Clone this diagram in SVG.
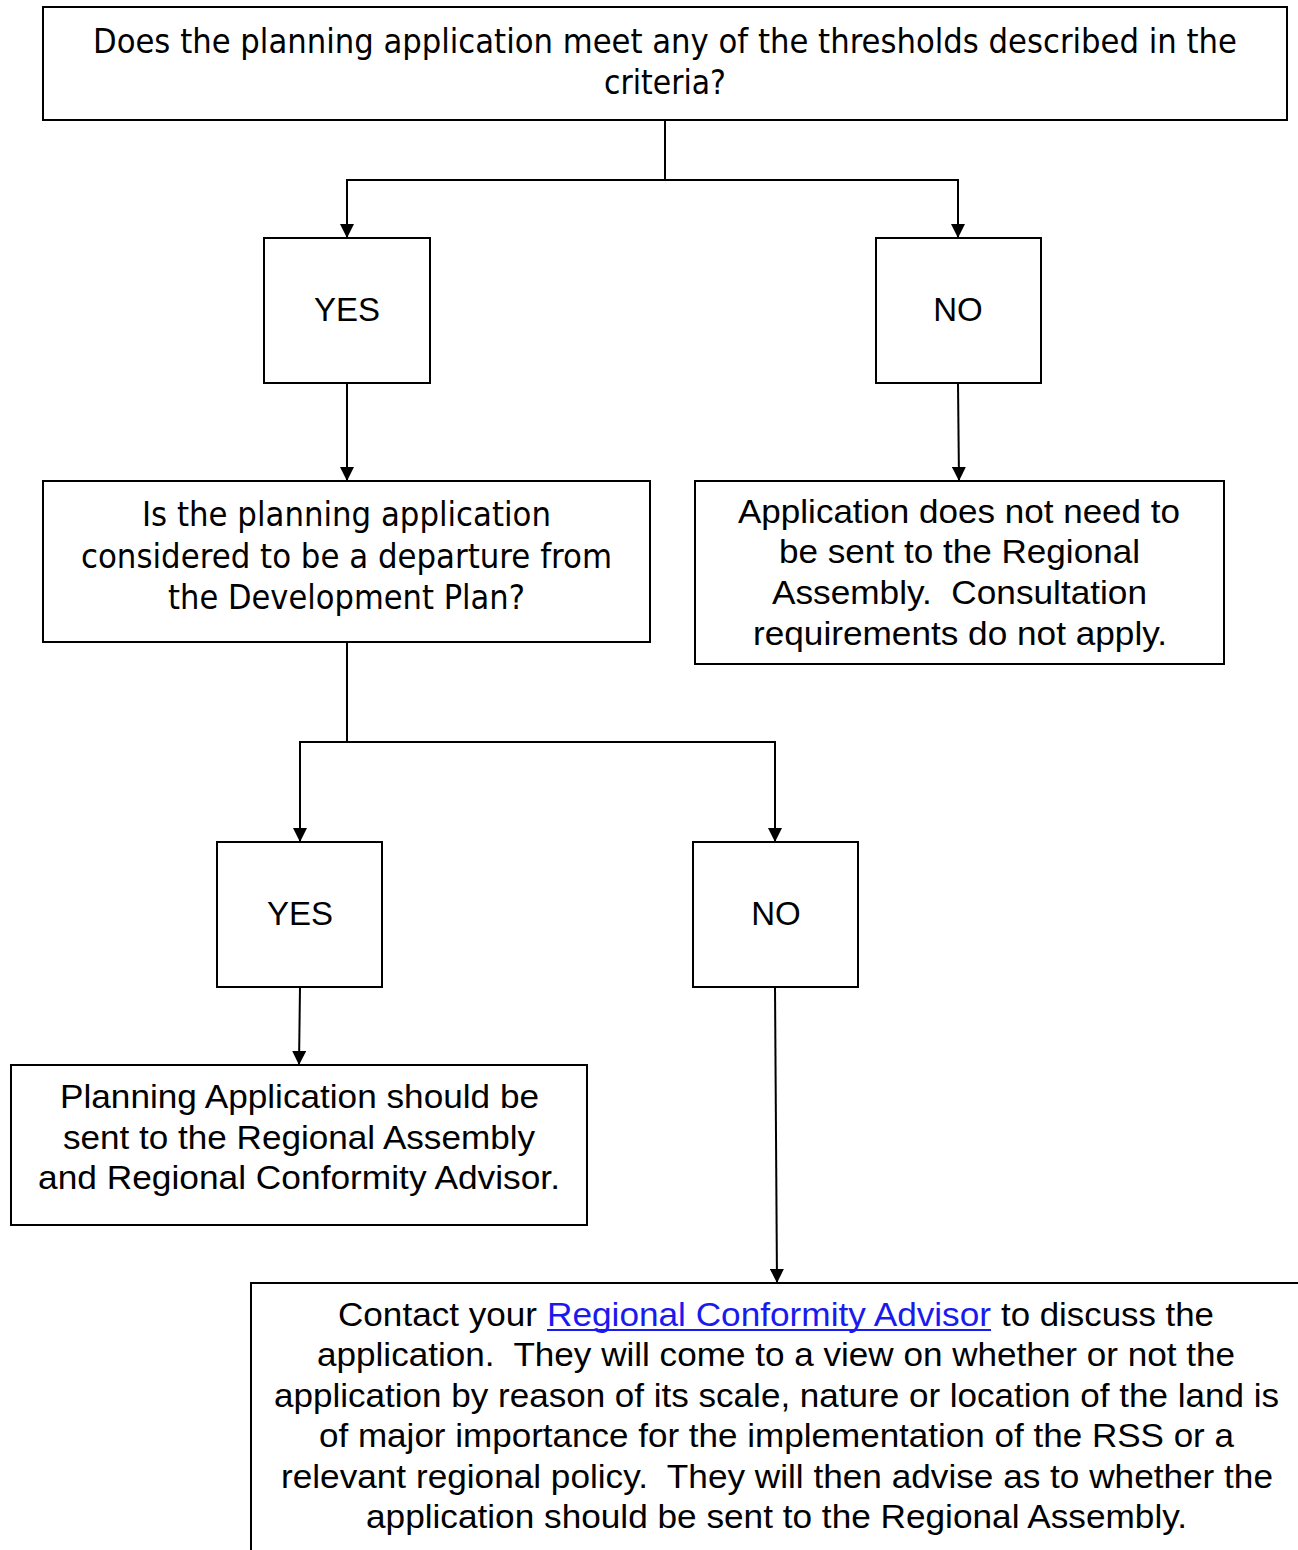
<svg xmlns="http://www.w3.org/2000/svg" width="1298" height="1550" viewBox="0 0 1298 1550" xml:space="preserve">
<style>
.box{fill:#fff;stroke:#000;stroke-width:2}
.ln{fill:none;stroke:#000;stroke-width:2}
text{white-space:pre}
.t{font-family:"DejaVu Sans","Liberation Sans",sans-serif;font-size:33px;fill:#000}
.a{font-family:"Liberation Sans",Arial,sans-serif;font-size:33px;fill:#000}
.n{font-family:"Liberation Sans",Arial,sans-serif;font-size:34px;fill:#000}
.lk{fill:#1a1aee}
</style>
<defs>
<marker id="ar" markerWidth="14" markerHeight="14" refX="14" refY="7" orient="auto" markerUnits="userSpaceOnUse">
<path d="M0,0 L14,7 L0,14 Z" fill="#000"/>
</marker>
</defs>
<rect width="1298" height="1550" fill="#fff"/>
<g id="connectors">
<path class="ln" d="M665,120 V180 H347 V238" marker-end="url(#ar)"/>
<path class="ln" d="M665,180 H958 V238" marker-end="url(#ar)"/>
<path class="ln" d="M347,383 V481" marker-end="url(#ar)"/>
<path class="ln" d="M958,383 L959,481" marker-end="url(#ar)"/>
<path class="ln" d="M347,642 V742 H300 V842" marker-end="url(#ar)"/>
<path class="ln" d="M347,742 H775 V842" marker-end="url(#ar)"/>
<path class="ln" d="M300,987 L299,1065" marker-end="url(#ar)"/>
<path class="ln" d="M775,987 L777,1283" marker-end="url(#ar)"/>
</g>
<g id="q1">
<rect class="box" x="43" y="7" width="1244" height="113"/>
<text class="t" x="93" y="53" textLength="1144" lengthAdjust="spacingAndGlyphs">Does the planning application meet any of the thresholds described in the</text>
<text class="t" x="604" y="94" textLength="122" lengthAdjust="spacingAndGlyphs">criteria?</text>
</g>
<g id="yes1">
<rect class="box" x="264" y="238" width="166" height="145"/>
<text class="a" x="347" y="321" text-anchor="middle">YES</text>
</g>
<g id="no1">
<rect class="box" x="876" y="238" width="165" height="145"/>
<text class="a" x="958" y="321" text-anchor="middle">NO</text>
</g>
<g id="q2">
<rect class="box" x="43" y="481" width="607" height="161"/>
<text class="t" x="142" y="526" textLength="409" lengthAdjust="spacingAndGlyphs">Is the planning application</text>
<text class="t" x="81" y="568" textLength="531" lengthAdjust="spacingAndGlyphs">considered to be a departure from</text>
<text class="t" x="168" y="609" textLength="357" lengthAdjust="spacingAndGlyphs">the Development Plan?</text>
</g>
<g id="notneeded">
<rect class="box" x="695" y="481" width="529" height="183"/>
<text class="a" x="738" y="523" textLength="442" lengthAdjust="spacingAndGlyphs">Application does not need to</text>
<text class="a" x="779" y="563" textLength="361" lengthAdjust="spacingAndGlyphs">be sent to the Regional</text>
<text class="a" x="772" y="604" textLength="375" lengthAdjust="spacingAndGlyphs">Assembly.  Consultation</text>
<text class="a" x="753" y="645" textLength="414" lengthAdjust="spacingAndGlyphs">requirements do not apply.</text>
</g>
<g id="yes2">
<rect class="box" x="217" y="842" width="165" height="145"/>
<text class="a" x="300" y="925" text-anchor="middle">YES</text>
</g>
<g id="no2">
<rect class="box" x="693" y="842" width="165" height="145"/>
<text class="a" x="776" y="925" text-anchor="middle">NO</text>
</g>
<g id="send">
<rect class="box" x="11" y="1065" width="576" height="160"/>
<text class="a" x="60" y="1108" textLength="479" lengthAdjust="spacingAndGlyphs">Planning Application should be</text>
<text class="a" x="63" y="1149" textLength="472" lengthAdjust="spacingAndGlyphs">sent to the Regional Assembly</text>
<text class="a" x="38" y="1189" textLength="522" lengthAdjust="spacingAndGlyphs">and Regional Conformity Advisor.</text>
</g>
<g id="contact">
<rect class="box" x="251" y="1283" width="1070" height="290"/>
<text class="n" x="338" y="1326" textLength="199" lengthAdjust="spacingAndGlyphs">Contact your</text>
<text class="n lk" x="547" y="1326" textLength="444" lengthAdjust="spacingAndGlyphs">Regional Conformity Advisor</text>
<line x1="547" y1="1330" x2="991" y2="1330" stroke="#1a1aee" stroke-width="2"/>
<text class="n" x="1001" y="1326" textLength="213" lengthAdjust="spacingAndGlyphs">to discuss the</text>
<text class="n" x="317" y="1366" textLength="918" lengthAdjust="spacingAndGlyphs">application.  They will come to a view on whether or not the</text>
<text class="n" x="274" y="1407" textLength="1005" lengthAdjust="spacingAndGlyphs">application by reason of its scale, nature or location of the land is</text>
<text class="n" x="319" y="1447" textLength="915" lengthAdjust="spacingAndGlyphs">of major importance for the implementation of the RSS or a</text>
<text class="n" x="281" y="1488" textLength="992" lengthAdjust="spacingAndGlyphs">relevant regional policy.  They will then advise as to whether the</text>
<text class="n" x="366" y="1528" textLength="821" lengthAdjust="spacingAndGlyphs">application should be sent to the Regional Assembly.</text>
</g>
</svg>
